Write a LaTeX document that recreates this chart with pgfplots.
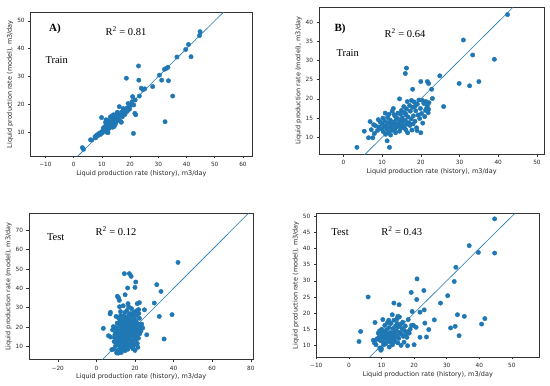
\documentclass[border=0pt]{standalone}
\usepackage{pgfplots}
\pgfplotsset{compat=1.18}
\usepackage{fontspec}
\setmainfont{Liberation Serif}
\setsansfont{DejaVu Sans}
\definecolor{mplblue}{HTML}{1F77B4}
\pgfplotsset{
  mpl/.style={
    scale only axis,
    anchor=south west,
    axis line style={black!80, line width=0.5pt},
    tick align=outside,
    xtick pos=bottom, ytick pos=left,
    major tick length=2.5pt,
    tick style={black!80, line width=0.5pt},
    tick label style={font=\sffamily\fontsize{5.8}{6}\selectfont, text=black!85},
    /pgf/number format/assume math mode=true,
    label style={font=\sffamily\fontsize{6.5}{7}\selectfont, text=black!85},
    xlabel={Liquid production rate (history), m3/day},
    ylabel={Liquid production rate (model), m3/day},
    xlabel style={at={(axis description cs:0.5,0)}, anchor=center, yshift=-17.5pt},
    ylabel style={at={(axis description cs:0,0.5)}, anchor=center, yshift=20.5pt},
  },
  dots/.style={only marks, mark=*, mark size=2.2pt, color=mplblue, mark options={draw=mplblue, fill=mplblue}},
  fitline/.style={no marks, color=mplblue, line width=0.6pt},
}
\begin{document}
\begin{tikzpicture}
\path[use as bounding box] (0,0) rectangle (550pt,386pt);

% Panel A
\begin{axis}[mpl, at={(30.7pt,230pt)}, width=221.3pt, height=143.3pt,
  xmin=-15.2, xmax=63.2, ymin=1.5, ymax=52.9,
  xtick={-10,0,10,20,30,40,50,60}, xticklabels={−10,0,10,20,30,40,50,60},
  ytick={10,20,30,40,50}]
\addplot[fitline] coordinates {(-40,-40) (100,100)};
\addplot[dots] coordinates {
(3.1,4.5)(3.5,3.9)(6.0,7.3)(6.4,7.2)(7.6,8.4)(8.2,9.0)(7.8,8.0)(8.5,8.7)(9.1,9.6)(9.9,10.2)
(9.5,9.2)(10.2,9.8)(9.9,15.3)(18.7,29.4)(23.0,33.8)(23.1,28.7)(21.2,9.6)(22.0,16.3)(20.9,22.8)(23.3,23.0)
(24.0,25.8)(24.6,25.3)(25.2,25.6)(28.0,26.4)(30.4,30.5)(31.2,28.7)(32.2,32.6)(32.8,32.9)(33.4,33.3)(33.6,28.5)
(35.1,23.0)(32.4,13.8)(36.6,37.0)(39.7,39.7)(40.7,41.5)(41.6,37.1)(44.6,44.7)(44.8,46.1)(21.8,21.6)(20.2,19.6)
(19.5,18.9)(18.4,18.2)(17.6,18.5)(17.0,17.3)(16.4,15.8)(16.2,19.2)(16.8,16.5)(15.8,16.2)(15.4,15.1)(15.0,15.7)
(14.6,14.4)(14.3,15.0)(14.0,13.6)(13.7,14.2)(13.3,13.1)(13.0,13.8)(12.7,12.5)(12.4,13.2)(12.0,12.0)(11.7,12.7)
(11.4,11.3)(11.0,12.0)(10.8,10.7)(10.5,11.5)(11.3,13.6)(12.0,14.3)(12.6,11.4)(13.5,12.3)(14.2,16.3)(15.2,13.9)
(15.8,14.6)(16.6,14.0)(17.3,15.6)(18.2,16.4)(19.0,17.5)(19.8,18.3)(20.5,20.0)(21.3,19.8)(21.7,16.8)(20.7,21.0)
(18.8,18.6)(13.8,11.8)(11.8,10.0)(10.3,10.3)(12.2,9.9)(14.8,13.0)(16.0,15.4)(17.8,17.0)(8.8,9.4)(11.5,14.5)
(13.0,15.5)(15.5,17.2)(14.4,12.1)(16.9,13.6)(12.9,13.4)(14.1,14.8)(15.3,16.5)(11.2,11.9)(13.6,15.9)(19.3,20.3)
};
\end{axis}

% Panel B
\begin{axis}[mpl, at={(319pt,231.7pt)}, width=225.3pt, height=147pt,
  xmin=-6.3, xmax=51.9, ymin=5.6, ymax=43.8,
  xtick={0,10,20,30,40,50},
  ytick={10,15,20,25,30,35,40}]
\addplot[fitline] coordinates {(-40,-40) (100,100)};
\addplot[dots] coordinates {
(3.5,7.4)(5.4,11.6)(6.5,9.9)(7.6,9.9)(6.9,14.1)(11.9,7.4)(11.3,9.1)(16.0,26.6)(16.3,28.0)(20.0,24.5)
(21.7,24.5)(22.0,24.0)(22.8,22.5)(17.9,22.5)(24.9,26.0)(14.5,20.0)(23.0,20.1)(25.9,18.0)(20.0,11.2)(29.9,24.0)
(31.0,35.3)(32.6,23.4)(33.4,31.4)(35.0,24.5)(39.0,30.3)(42.4,41.9)
(7.2,12.0)(7.8,13.3)(8.3,13.0)(8.8,11.8)(9.2,12.7)(9.5,14.0)(9.8,12.2)(10.0,13.5)(10.3,11.5)(10.5,12.8)
(10.7,14.2)(10.9,10.8)(11.0,13.0)(11.2,12.2)(11.4,15.2)(11.6,11.3)(11.8,16.0)(12.0,12.6)(12.1,14.5)(12.3,13.4)
(12.5,11.8)(12.6,16.8)(12.8,12.3)(13.0,14.0)(13.2,13.0)(13.4,15.5)(13.5,11.2)(13.7,14.7)(13.9,12.8)(14.1,16.3)
(14.3,13.6)(14.5,11.6)(14.7,14.2)(14.9,12.4)(15.0,17.0)(15.2,15.0)(15.4,13.2)(15.6,18.0)(15.8,16.4)(16.0,14.4)
(16.1,12.0)(16.3,17.4)(16.5,19.3)(16.7,15.3)(16.9,13.8)(17.1,18.3)(17.3,16.8)(17.5,14.8)(17.7,11.9)(17.9,17.8)
(18.1,15.6)(18.3,19.2)(18.5,14.2)(18.7,16.9)(18.9,12.5)(19.1,18.6)(19.3,15.8)(19.5,19.7)(19.7,14.9)(19.9,17.5)
(20.2,16.2)(20.5,13.7)(20.8,18.8)(21.0,15.4)(21.3,19.3)(21.5,17.6)(21.7,18.2)(21.9,16.4)(22.1,19.0)(22.0,17.3)
(10.2,15.0)(12.9,17.5)(11.5,13.8)(13.3,12.0)(14.0,14.9)(15.7,12.5)(16.6,11.2)(17.2,13.1)(18.0,13.5)(19.0,11.8)
(14.8,16.0)(13.6,13.5)(12.2,10.6)(9.0,14.6)(8.0,11.0)(10.8,16.3)(16.2,15.8)(17.6,19.6)(18.4,18.0)(20.4,19.6)
(21.2,17.0)(15.3,14.2)(13.1,15.9)(11.9,13.7)(14.4,12.9)(16.4,13.4)
};
\end{axis}

% Panel C
\begin{axis}[mpl, at={(29pt,26.3pt)}, width=224.3pt, height=146pt,
  xmin=-34.9, xmax=81.3, ymin=3.1, ymax=78.6,
  xtick={-20,0,20,40,60,80}, xticklabels={−20,0,20,40,60,80},
  ytick={10,20,30,40,50,60,70}]
\addplot[fitline] coordinates {(-40,-40) (100,100)};
\addplot[dots] coordinates {
(3.6,19.3)(7.4,14.8)(7.3,27.6)(7.1,26.8)(10.9,35.9)(11.9,33.8)(11.5,35.0)(14.5,47.6)(17.1,47.6)(18.0,46.2)
(16.2,40.2)(14.9,36.7)(16.4,32.1)(20.4,43.3)(20.0,40.5)(21.2,32.1)(22.3,32.6)(21.2,28.6)(24.9,28.9)(26.1,16.0)
(30.0,32.4)(31.3,41.9)(33.5,38.4)(32.6,25.5)(39.2,26.4)(35.1,13.8)(42.3,53.4)(10.5,6.6)(20.0,7.9)(12.0,30.5)
(6.3,15.5)(9.0,8.5)(8.0,8.3)(9.8,19.8)(10.0,17.0)
(9.2,12.5)(9.6,16.0)(9.9,10.2)(10.2,14.0)(10.4,19.0)(10.6,11.5)(10.8,22.0)(11.0,8.0)(11.1,15.5)(11.3,13.0)
(11.5,17.5)(11.6,24.5)(11.8,10.5)(12.0,20.5)(12.1,14.5)(12.3,9.0)(12.4,16.8)(12.6,26.0)(12.7,12.0)(12.9,18.5)
(13.0,22.5)(13.2,11.0)(13.3,15.0)(13.5,20.0)(13.6,13.5)(13.8,24.0)(13.9,17.0)(14.1,9.5)(14.2,19.0)(14.4,12.8)
(14.5,22.0)(14.7,15.8)(14.8,27.5)(15.0,18.0)(15.1,10.8)(15.3,21.0)(15.4,14.0)(15.6,25.0)(15.7,16.5)(15.9,12.0)
(16.0,19.5)(16.2,23.0)(16.3,8.5)(16.5,17.8)(16.6,13.8)(16.8,21.8)(16.9,26.5)(17.1,15.2)(17.2,11.2)(17.4,19.8)
(17.5,24.2)(17.7,17.0)(17.8,13.0)(18.0,22.5)(18.1,9.8)(18.3,18.5)(18.4,15.8)(18.6,20.8)(18.7,25.8)(18.9,12.5)
(19.0,17.5)(19.2,22.0)(19.3,14.5)(19.5,19.5)(19.6,10.8)(19.8,24.0)(20.0,16.5)(20.1,21.0)(20.3,13.2)(20.5,18.5)
(20.6,22.8)(20.8,15.0)(21.0,19.8)(21.2,11.5)(21.4,17.2)(21.6,21.5)(21.8,14.2)(22.0,19.0)(22.3,24.5)(22.5,16.5)
(22.8,20.2)(23.1,18.0)(23.5,21.5)(24.0,19.5)(13.0,17.2)(14.0,20.8)(15.0,23.5)(16.0,15.0)(17.0,18.8)(18.0,20.0)
(19.0,16.0)(14.6,18.2)(15.5,19.2)(16.4,20.5)(17.3,21.2)(13.4,19.5)(12.2,22.8)(11.8,18.0)(10.7,16.8)(9.5,14.5)
(8.8,20.2)(8.4,18.5)(15.8,28.5)(17.6,27.0)(19.4,27.5)(14.0,25.8)(12.5,28.0)(10.2,25.5)(22.0,27.0)(20.7,26.0)
(16.1,10.0)(14.9,7.8)(13.6,8.3)(12.9,6.8)(18.9,8.8)(17.9,11.8)(21.5,9.5)(11.4,6.5)(20.2,28.0)(18.2,29.5)
(16.7,30.5)(13.9,31.0)(21.9,29.0)
};
\end{axis}

% Panel D
\begin{axis}[mpl, at={(316.3pt,29pt)}, width=223pt, height=143.3pt,
  xmin=-10, xmax=58.4, ymin=6.4, ymax=50.8,
  xtick={-10,0,10,20,30,40,50}, xticklabels={−10,0,10,20,30,40,50},
  ytick={10,15,20,25,30,35,40,45,50}]
\addplot[fitline] coordinates {(-40,-40) (100,100)};
\addplot[dots] coordinates {
(3.1,11.2)(3.6,14.3)(5.9,25.0)(8.0,17.1)(13.8,23.1)(15.4,22.6)(19.1,26.4)(23.0,27.0)(20.9,30.6)(20.8,24.2)
(19.4,20.5)(21.8,20.3)(23.1,21.0)(28.1,23.1)(30.3,25.4)(32.3,29.8)(32.8,34.2)(36.9,40.9)(39.7,38.8)(44.7,49.2)
(44.7,38.6)(33.3,19.5)(35.4,19.0)(32.6,15.9)(31.2,15.4)(33.8,13.0)(40.7,16.6)(41.7,18.3)(26.2,17.9)(23.3,16.9)
(24.5,14.9)(23.8,12.6)(21.8,12.5)(20.0,10.2)(18.0,9.9)(10.0,8.9)(19.8,16.2)(20.6,15.6)
(7.5,11.6)(7.8,10.8)(8.0,11.2)(8.3,10.2)(8.6,12.0)(9.0,13.8)(9.2,12.5)(9.4,14.5)(9.6,11.5)(9.8,8.5)
(10.0,12.8)(10.1,15.0)(10.3,13.5)(10.5,11.0)(10.6,14.2)(10.8,12.2)(11.0,16.2)(11.1,13.0)(11.3,10.5)(11.5,14.8)
(11.6,12.0)(11.8,17.0)(12.0,13.4)(12.1,11.4)(12.3,15.5)(12.4,9.5)(12.6,12.6)(12.8,14.0)(12.9,16.8)(13.1,11.8)
(13.2,13.2)(13.4,10.2)(13.5,15.2)(13.7,12.4)(13.8,17.8)(14.0,13.8)(14.1,11.2)(14.3,16.0)(14.4,12.8)(14.6,14.6)
(14.7,18.2)(14.9,13.0)(15.0,10.8)(15.2,15.8)(15.3,12.2)(15.5,18.8)(15.6,14.0)(15.8,16.5)(16.0,10.0)(16.1,13.5)
(16.3,15.2)(16.5,17.2)(16.7,12.8)(17.0,14.6)(17.3,16.0)(17.6,13.5)(18.0,14.2)(18.2,18.0)(18.5,13.8)(18.8,15.0)
(19.2,16.2)(12.5,13.8)(13.0,12.9)(13.6,13.6)(14.2,14.3)(11.9,12.4)(12.7,11.0)(13.9,12.0)(11.4,13.6)(10.7,10.2)
(9.5,9.2)(12.2,17.8)(14.8,16.8)(13.3,19.5)(15.0,19.0)(16.9,11.0)(17.8,12.5)(10.4,18.0)
};
\end{axis}

% annotations
\node[font=\bfseries\fontsize{11}{12}\selectfont] at (55pt,356.7pt) {A)};
\node[font=\fontsize{10.5}{12}\selectfont] at (126pt,354.5pt) {R\textsuperscript{2} = 0.81};
\node[font=\fontsize{10.5}{12}\selectfont] at (56.7pt,326pt) {Train};
\node[font=\bfseries\fontsize{11}{12}\selectfont] at (340pt,356.7pt) {B)};
\node[font=\fontsize{10.5}{12}\selectfont] at (405pt,353pt) {R\textsuperscript{2} = 0.64};
\node[font=\fontsize{10.5}{12}\selectfont] at (347.7pt,333.3pt) {Train};
\node[font=\fontsize{10.5}{12}\selectfont] at (55.7pt,149pt) {Test};
\node[font=\fontsize{10.5}{12}\selectfont] at (116pt,154.7pt) {R\textsuperscript{2} = 0.12};
\node[font=\fontsize{10.5}{12}\selectfont] at (340pt,153.7pt) {Test};
\node[font=\fontsize{10.5}{12}\selectfont] at (401.7pt,154.7pt) {R\textsuperscript{2} = 0.43};
\end{tikzpicture}
\end{document}
